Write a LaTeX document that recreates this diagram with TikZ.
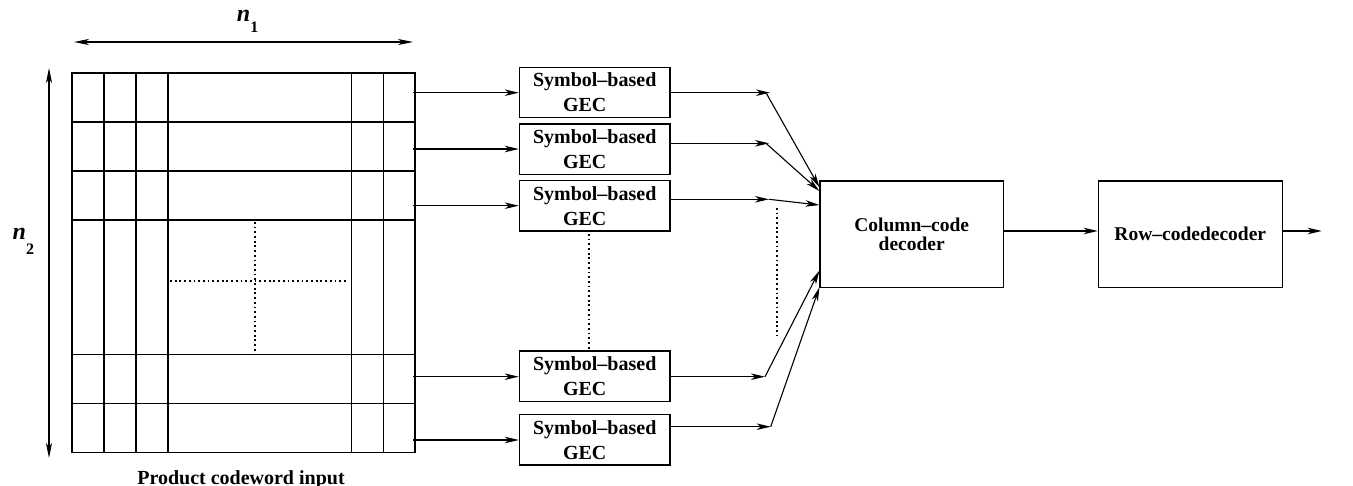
\documentclass[tikz,border=0pt]{standalone}
\usepackage{fontspec}
\setmainfont{Liberation Serif}
\usetikzlibrary{arrows.meta,calc}
\begin{document}
\begin{tikzpicture}[x=1pt,y=-1pt,
  tip/.style={-{Stealth[length=14pt,width=6.5pt,inset=4pt]}},
  dtip/.style={{Stealth[length=15pt,width=6pt,inset=4pt]}-{Stealth[length=15pt,width=6pt,inset=4pt]}},
  conn/.style={line width=1.1pt},
  gridline/.style={line width=1.3pt},
  gec/.style={draw, line width=1.2pt, minimum width=150.7pt, minimum height=50.4pt, inner sep=0pt, align=center, font=\fontsize{20}{25}\selectfont\bfseries},
  dec/.style={draw, line width=1.2pt, minimum height=106.7pt, inner sep=0pt, align=center, font=\fontsize{19.5}{18.5}\selectfont\bfseries},
  dots/.style={line width=1.8pt, dash pattern=on 1.8pt off 2.9pt},
  lbl/.style={font=\fontsize{20}{24}\selectfont\bfseries, inner sep=0pt}]
\useasboundingbox (0,0) rectangle (1353,486);

% codeword grid
\node[draw, gridline, minimum width=343pt, minimum height=379.3pt, inner sep=0pt] (grid) at (243.5,262.65) {};
\foreach \x in {104,136,168,351.7,383.3} \draw[gridline] (\x,73) -- (\x,452.3);
\foreach \y in {122,171,220,354.7,403.7} \draw[gridline] (72,\y) -- (415,\y);
\draw[dots] (255,222) -- (255,354);
\draw[dots] (170,281.3) -- (347,281.3);

% dimension arrows
\coordinate (h1) at (74,42);
\coordinate (h2) at (413,42);
\draw[conn, dtip] (h1) -- (h2);
\node[anchor=base west, inner sep=0pt] (n1) at (236.7,22) {\fontsize{24}{24}\selectfont\bfseries\itshape n\raisebox{-11pt}{\fontsize{16}{16}\selectfont\upshape 1}};
\coordinate (v1) at (49,68);
\coordinate (v2) at (49,458);
\draw[conn, dtip] (v1) -- (v2);
\node[anchor=base west, inner sep=0pt] (n2) at (12.5,240) {\fontsize{24}{24}\selectfont\bfseries\itshape n\raisebox{-15pt}{\fontsize{16}{16}\selectfont\upshape 2}};
\node[lbl, anchor=base] (cap) at (241,484) {Product codeword input};

% GEC boxes
\node[gec] (g1) at (594.7,92.5)  {Symbol--based\\GEC\hspace*{20pt}};
\node[gec] (g2) at (594.7,149.2) {Symbol--based\\GEC\hspace*{20pt}};
\node[gec] (g3) at (594.7,205.9) {Symbol--based\\GEC\hspace*{20pt}};
\node[gec] (g4) at (594.7,376.3) {Symbol--based\\GEC\hspace*{20pt}};
\node[gec] (g5) at (594.7,439.7) {Symbol--based\\GEC\hspace*{20pt}};
\draw[dots] (588.7,234) -- (588.7,349);

% decoders
\node[dec, minimum width=183.3pt] (col) at (911.7,234.3) {Column--code\\decoder};
\node[dec, minimum width=184pt] (row) at (1190.3,234.3) {Row--codedecoder};

% grid rows to GEC
\coordinate (s1) at (413,92.7);
\coordinate (s2) at (413,149);
\coordinate (s3) at (413,205.7);
\coordinate (s4) at (413,376.7);
\coordinate (s5) at (413,440);
\foreach \i in {1,...,5} \draw[conn, tip] (s\i) -- (s\i -| g\i.west);

% GEC outputs
\coordinate (m1) at (770,92.7);
\coordinate (m2) at (769,143.3);
\coordinate (m3) at (769,199.3);
\coordinate (m4) at (765,376.7);
\coordinate (m5) at (770.7,426.7);
\foreach \i in {1,...,5} \draw[conn, tip] (m\i -| g\i.east) -- (m\i);
\draw[dots] (776.7,208) -- (776.7,335);

% into column decoder
\coordinate (c1) at ($(col.north west)+(0,7)$);
\coordinate (c2) at ($(col.north west)+(0,10.7)$);
\coordinate (c3) at ($(col.north west)+(0,24.7)$);
\coordinate (c4) at ($(col.south west)+(0,-17.7)$);
\coordinate (c5) at ($(col.south west)+(0,-1)$);
\draw[conn, tip] ($(m1)+(-4,0)$) -- (c1);
\draw[conn, tip] ($(m2)+(-3,0)$) -- (c2);
\draw[conn, tip] (m3) -- (c3);
\draw[conn, tip] (m4) -- (c4);
\draw[conn, tip] (m5) -- (c5);

% decoder chain
\coordinate (k) at (0,231);
\draw[conn, tip] (col.east |- k) -- (row.west |- k);
\coordinate (out) at (1321.7,231);
\draw[conn, tip] (row.east |- out) -- (out);
\end{tikzpicture}
\end{document}
